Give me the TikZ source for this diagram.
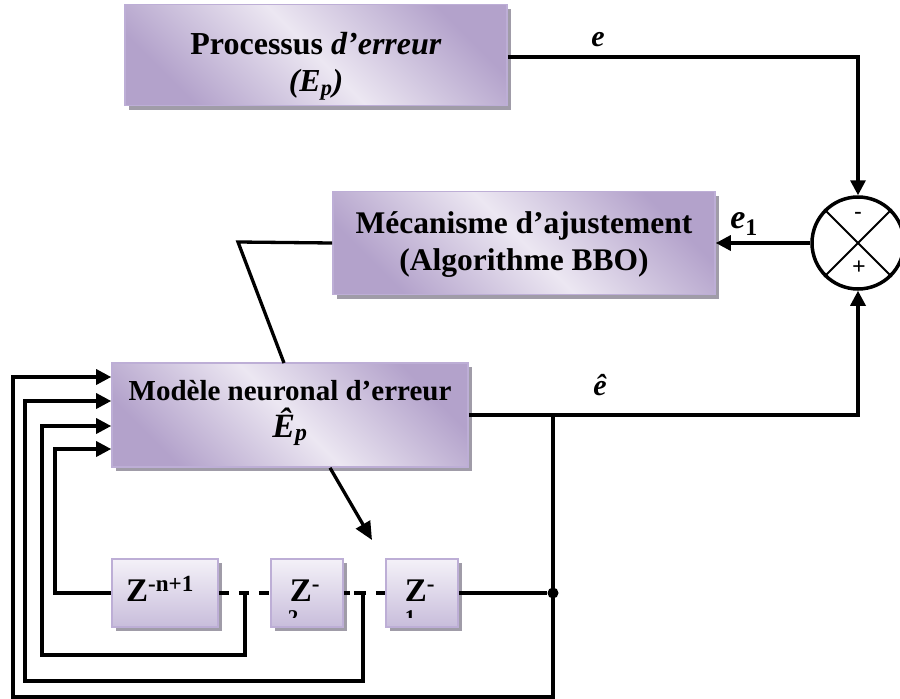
\documentclass[tikz,border=0pt]{standalone}
\usepackage{fontspec}
\setmainfont{Liberation Serif}
\usetikzlibrary{arrows.meta,shadows,calc}
\definecolor{vlight}{HTML}{ECE7F2}
\definecolor{vdark}{HTML}{B3A2CB}
\definecolor{vborder}{HTML}{BDAED6}
\definecolor{shadowgray}{HTML}{A09CA8}
\definecolor{zlight}{HTML}{F4F1F8}
\definecolor{zdark}{HTML}{C8BDDB}
\begin{document}
\begin{tikzpicture}[x=1pt,y=-1pt,
  bigbox/.style={draw=vborder, line width=1.6pt,
    top color=vdark, bottom color=vdark, middle color=vlight, shading angle=-45,
    drop shadow={shadow xshift=4pt, shadow yshift=-4pt, fill=shadowgray, opacity=1},
    inner sep=0pt},
  boxtext/.style={align=center, inner sep=0pt},
  zbox/.style={draw=vborder, line width=1.6pt,
    top color=zlight, bottom color=zdark,
    drop shadow={shadow xshift=4pt, shadow yshift=-4pt, fill=shadowgray, opacity=1},
    minimum height=68pt, inner sep=0pt},
  ztext/.style={font=\bfseries\fontsize{33}{33}\selectfont, inner sep=0pt},
  conn/.style={line width=3.3pt},
  arr/.style={-{Triangle[length=15pt,width=15pt]}},
  lbl/.style={font=\bfseries\itshape\fontsize{30}{30}\selectfont, inner sep=0pt},
  dotnode/.style={circle, fill=black, minimum size=11pt, inner sep=0pt}
]
\useasboundingbox (0,0) rectangle (900,699);

% blocks
\node[bigbox, minimum width=382pt, minimum height=101pt] (proc) at (316,55) {};
\node[boxtext, font=\bfseries\fontsize{32}{37}\selectfont] (proctxt) at (316,66)
  {Processus \textit{d’erreur}\\\textit{(E\textsubscript{p})}};
\node[bigbox, minimum width=382pt, minimum height=103pt] (mech) at (524,243) {};
\node[boxtext, font=\bfseries\fontsize{31.5}{37}\selectfont] (mechtxt) at (524,245)
  {Mécanisme d’ajustement\\(Algorithme BBO)};
\node[bigbox, minimum width=356pt, minimum height=104pt] (model) at (290,415) {};
\node[boxtext, font=\bfseries\fontsize{29}{37}\selectfont] (modeltxt) at (290,413)
  {Modèle neuronal d’erreur\\{\fontsize{34}{37}\selectfont\textit{Ê\textsubscript{p}}}};

% delay blocks
\node[zbox, minimum width=106pt] (zn) at (165,593) {};
\node[zbox, minimum width=72pt] (z2) at (307,593) {};
\node[zbox, minimum width=72pt] (z1) at (422,593) {};
\node[ztext, anchor=base] (zntxt) at (160,601) {Z\textsuperscript{-n+1}};
\node[ztext, anchor=base] (z2txt) at (305,601) {Z\textsuperscript{-}};
\node[ztext, anchor=base] (z1txt) at (420,601) {Z\textsuperscript{-}};
\begin{scope}
  \clip (270,590) rectangle (460,617);
  \node[ztext, font=\bfseries\fontsize{21}{21}\selectfont, anchor=north] (z2d) at (293,610) {2};
  \node[ztext, font=\bfseries\fontsize{21}{21}\selectfont, anchor=north] (z1d) at (410,610) {1};
\end{scope}

% summing junction
\node[draw, circle, line width=3.5pt, minimum size=92pt, inner sep=0pt] (sum) at (858,243) {};
\draw[line width=1.8pt] (sum.north east) -- (sum.south west);
\draw[line width=1.8pt] (sum.north west) -- (sum.south east);
\node[font=\bfseries\fontsize{22}{22}\selectfont, inner sep=0pt] (minus) at (858,215) {-};
\node[font=\bfseries\fontsize{24}{24}\selectfont, inner sep=0pt] (plus) at (859,268) {+};

% labels
\node[lbl] (elbl) at (598,40) {e};
\node[lbl, font=\bfseries\itshape\fontsize{34}{34}\selectfont] (e1lbl) at (744,224) {e\textsubscript{\upshape 1}};
\node[lbl] (ehat) at (600,385) {ê};

% coordinates
\coordinate (kink) at (238,242);
\coordinate (mtop) at (284,363);
\coordinate (split) at (553,415);
\node[dotnode] (dot) at (553,593) {};
\coordinate (tap2) at (245,593);
\coordinate (tap1) at (363,593);

% connectors
\draw[conn,arr] ($(proc.east)+(0,2)$) -| (sum.north);
\draw[conn,arr] (sum.west) -- (mech.east);
\draw[conn] (mech.west) -- (kink) -- (mtop);
\draw[conn,arr] (model.east) -| (sum.south);
\draw[conn,arr] (split) -- (553,697) -| (13,377) -- (model.west |- 0,377);
\draw[conn] (z1.east) -- (dot);
\draw[conn, dash pattern=on 10pt off 10pt] (zn.east) -- (z2.west);
\draw[conn, dash pattern=on 6pt off 4pt on 12pt off 10pt on 14pt off 0pt] (z2.east) -- (z1.west);
\draw[conn,arr] (tap2) -- (245,655) -| (42,426) -- (model.west |- 0,426);
\draw[conn,arr] (tap1) -- (363,681) -| (25,401) -- (model.west |- 0,401);
\draw[conn,arr] (zn.west) -| (55,449) -- (model.west |- 0,449);
\draw[conn,-{Triangle[length=18pt,width=16pt]}] ($(model.south)+(40,0)$) -- (372,540);
\end{tikzpicture}
\end{document}
